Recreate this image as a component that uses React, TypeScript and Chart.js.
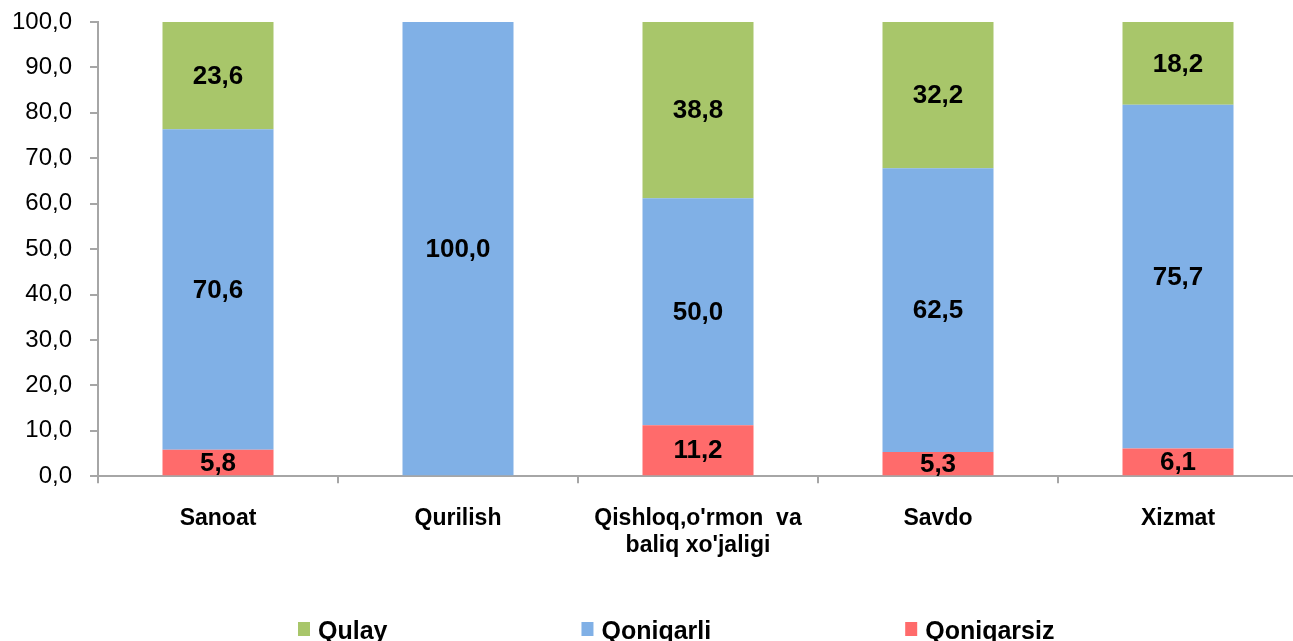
import React, { useEffect, useRef } from "react";
import { Chart, registerables } from "chart.js";

Chart.register(...registerables);

const categories: (string | string[])[] = [
  "Sanoat",
  "Qurilish",
  ["Qishloq,o'rmon  va", "baliq xo'jaligi"],
  "Savdo",
  "Xizmat",
];
const qoniqarsiz = [5.8, 0, 11.2, 5.3, 6.1];
const qoniqarli = [70.6, 100.0, 50.0, 62.5, 75.7];
const qulay = [23.6, 0, 38.8, 32.2, 18.2];
const legendOrder = ["Qulay", "Qoniqarli", "Qoniqarsiz"];

const GREEN = "#A8C66A";
const BLUE = "#80B0E6";
const RED = "#FF6B6B";
const AXIS = "#A6A6A6";
const FONT = '"Liberation Sans", Arial, sans-serif';

const fmt = (v: number) => v.toFixed(1).replace(".", ",");

const valueLabels = {
  id: "valueLabels",
  afterDatasetsDraw(chart: any) {
    const ctx = chart.ctx;
    ctx.save();
    ctx.font = `bold 26px ${FONT}`;
    ctx.fillStyle = "#000";
    ctx.textAlign = "center";
    ctx.textBaseline = "middle";
    chart.data.datasets.forEach((ds: any, di: number) => {
      const meta = chart.getDatasetMeta(di);
      meta.data.forEach((el: any, i: number) => {
        const v = ds.data[i];
        if (!v) return;
        const { x, y, base } = el.getProps(["x", "y", "base"], true);
        ctx.fillText(fmt(v), x, (y + base) / 2 + 1);
      });
    });
    ctx.restore();
  },
};

const customLegend = {
  id: "customLegend",
  afterDraw(chart: any) {
    const ctx = chart.ctx;
    ctx.save();
    ctx.font = `bold 25px ${FONT}`;
    ctx.textBaseline = "middle";
    ctx.textAlign = "left";
    const gap = 194;
    const boxW = 12;
    const boxH = 14;
    const textOff = 8;
    const items = legendOrder.map((name) => {
      const ds = chart.data.datasets.find((d: any) => d.label === name);
      return { name, color: ds.backgroundColor, w: boxW + textOff + ctx.measureText(name).width };
    });
    let x = chart.chartArea.left + 200;
    const y = 632;
    items.forEach((it) => {
      ctx.fillStyle = it.color;
      ctx.fillRect(x, y - boxH / 2 - 3, boxW, boxH);
      ctx.fillStyle = "#000";
      ctx.fillText(it.name, x + boxW + textOff, y);
      x += it.w + gap;
    });
    ctx.restore();
  },
};

export default function App() {
  const ref = useRef<HTMLCanvasElement>(null);
  useEffect(() => {
    document.body.style.margin = "0";
    const chart = new Chart(ref.current!, {
      type: "bar",
      data: {
        labels: categories,
        datasets: [
          { label: "Qoniqarsiz", data: qoniqarsiz, backgroundColor: RED },
          { label: "Qoniqarli", data: qoniqarli, backgroundColor: BLUE },
          { label: "Qulay", data: qulay, backgroundColor: GREEN },
        ],
      },
      options: {
        animation: false,
        responsive: false,
        devicePixelRatio: 1,
        layout: { padding: { left: 12, right: 5, top: 22, bottom: 60 } },
        datasets: {
          bar: { categoryPercentage: 1, barPercentage: 0.4625 },
        },
        plugins: {
          legend: { display: false },
          tooltip: { enabled: false },
        },
        scales: {
          x: {
            stacked: true,
            offset: true,
            grid: {
              offset: true,
              drawOnChartArea: false,
              drawTicks: true,
              tickLength: 7,
              color: AXIS,
              lineWidth: 2,
            },
            border: { color: AXIS, width: 2 },
            ticks: {
              color: "#000",
              padding: 22,
              font: { family: FONT, size: 23, weight: "bold", lineHeight: 1.17 },
              maxRotation: 0,
              autoSkip: false,
            },
          },
          y: {
            stacked: true,
            min: 0,
            max: 100,
            afterFit: (scale: any) => {
              scale.width = 86;
              scale.paddingTop = 0;
              scale.paddingBottom = 0;
            },
            grid: {
              drawOnChartArea: false,
              drawTicks: true,
              tickLength: 8,
              color: AXIS,
              lineWidth: 2,
            },
            border: { color: AXIS, width: 2 },
            ticks: {
              stepSize: 10,
              color: "#000",
              padding: 18,
              font: { family: FONT, size: 24 },
              callback: (v: any) => fmt(Number(v)),
            },
          },
        },
      },
      plugins: [valueLabels, customLegend],
    });
    return () => chart.destroy();
  }, []);
  return (
    <div style={{ position: "fixed", left: 0, top: 0, width: 1293, height: 641, overflow: "hidden", background: "#fff" }}>
      <canvas ref={ref} width={1303} height={641} style={{ width: 1303, height: 641, display: "block" }} />
    </div>
  );
}
